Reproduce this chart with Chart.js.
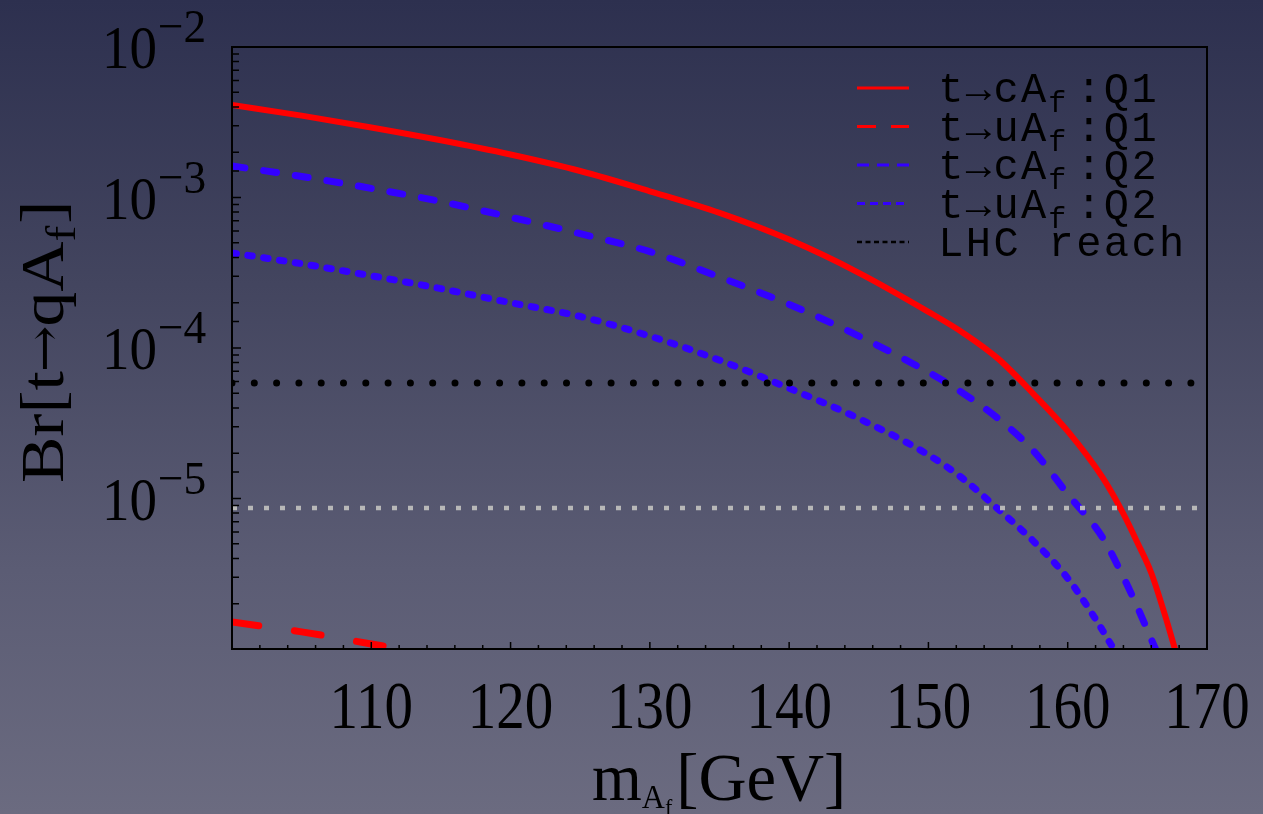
<!DOCTYPE html>
<html><head><meta charset="utf-8">
<script src="https://cdn.jsdelivr.net/npm/chart.js@4/dist/chart.umd.min.js"></script>
<style>
html,body{margin:0;padding:0;}
body{width:1263px;height:814px;overflow:hidden;background:linear-gradient(180deg,#2d304f 0%,#43455f 35%,#5b5c74 70%,#6b6b80 100%);}
#wrap{position:relative;width:1263px;height:814px;}
</style></head><body><div id="wrap"><canvas id="c"></canvas></div>
<script>
// ---- axis ranges & tick labels ----
const xMin = 100, xMax = 170;
const yMin = 1e-6, yMax = 1e-2;
const xTickLabels = [110, 120, 130, 140, 150, 160, 170];
const yTickPowers = [-2, -3, -4, -5];
const seriesLabels = ['t→cA_f:Q1', 't→uA_f:Q1', 't→cA_f:Q2', 't→uA_f:Q2', 'LHC reach'];

// ---- series: t -> c A_f : Q1 ----
const massCQ1 = [100,105,110,115,120,125,130,135,140,145,150,152.5,155,157.5,160,162.5,164,165,166,167,167.7];
const brCQ1   = [4.12e-3,3.5e-3,2.92e-3,2.40e-3,1.93e-3,1.50e-3,1.10e-3,7.9e-4,5.25e-4,3.16e-4,1.74e-4,1.26e-4,8.5e-5,5.0e-5,2.8e-5,1.38e-5,7.9e-6,5.1e-6,3.2e-6,1.66e-6,1.0e-6];
// ---- series: t -> u A_f : Q1 ----
const massUQ1 = [100,105,110,112.2];
const brUQ1   = [1.51e-6,1.30e-6,1.08e-6,1.0e-6];
// ---- series: t -> c A_f : Q2 ----
const massCQ2 = [100,105,110,115,120,125,130,135,140,145,150,152.5,155,157.5,160,162.5,164,165,166.3];
const brCQ2   = [1.62e-3,1.38e-3,1.15e-3,9.4e-4,7.4e-4,5.75e-4,4.37e-4,2.96e-4,1.95e-4,1.2e-4,6.9e-5,5.0e-5,3.4e-5,2.09e-5,1.07e-5,5.5e-6,3.0e-6,1.9e-6,1.0e-6];
// ---- series: t -> u A_f : Q2 ----
const massUQ2 = [100,105,110,115,120,125,130,135,140,145,150,152.5,155,157.5,160,162,163.3];
const brUQ2   = [4.28e-4,3.63e-4,3.02e-4,2.48e-4,2.0e-4,1.62e-4,1.2e-4,8.3e-5,5.4e-5,3.4e-5,1.95e-5,1.35e-5,8.5e-6,5.25e-6,2.95e-6,1.58e-6,1.0e-6];
// ---- horizontal reach lines ----
const lhcReach = 5.85e-5;
const lowerReach = 8.65e-6;

const RED = '#ff0000', BLUE = '#3300ff';
const pts = (xs, ys) => xs.map((x, i) => ({x: x, y: ys[i]}));

const legendSamples = [
  {color: RED, dash: []},
  {color: RED, dash: [19, 15]},
  {color: BLUE, dash: [12, 8]},
  {color: BLUE, dash: [8, 5]},
  {color: '#000000', dash: [5, 3.5], width: 2.5}
];

function drawScaled(ctx, text, x, y, sx, sy, align) {
  ctx.save();
  ctx.translate(x, y);
  ctx.scale(sx, sy);
  ctx.textAlign = align || 'left';
  ctx.textBaseline = 'alphabetic';
  ctx.fillText(text, 0, 0);
  ctx.restore();
}

const decor = {
  id: 'decor',
  afterDraw(chart) {
    const ctx = chart.ctx, a = chart.chartArea;
    const xs = chart.scales.x, ys = chart.scales.y;
    ctx.save();
    ctx.strokeStyle = '#000'; ctx.fillStyle = '#000';
    // frame
    ctx.lineWidth = 2;
    ctx.strokeRect(a.left, a.top, a.right - a.left, a.bottom - a.top);
    // tick marks (inward)
    ctx.lineWidth = 1.5;
    ctx.beginPath();
    xs.ticks.forEach(t => {
      const px = xs.getPixelForValue(t.value);
      const major = Math.abs(t.value % 10) < 1e-9;
      ctx.moveTo(px, a.bottom); ctx.lineTo(px, a.bottom - (major ? 7 : 4));
    });
    ys.ticks.forEach(t => {
      const py = ys.getPixelForValue(t.value);
      const lg = Math.log10(t.value);
      const major = Math.abs(lg - Math.round(lg)) < 1e-6;
      ctx.moveTo(a.left, py); ctx.lineTo(a.left + (major ? 9 : 7), py);
    });
    ctx.stroke();

    // x tick labels
    ctx.font = '57px "Liberation Serif", "Times New Roman", serif';
    xTickLabels.forEach(v => {
      drawScaled(ctx, String(v), xs.getPixelForValue(v), 728, 1, 1.17, 'center');
    });
    // y tick labels 10^p
    yTickPowers.forEach(p => {
      const py = ys.getPixelForValue(Math.pow(10, p));
      ctx.font = '55px "Liberation Serif", "Times New Roman", serif';
      drawScaled(ctx, '10', 157, py + 21, 1, 1.13, 'right');
      ctx.font = '42px "Liberation Serif", "Times New Roman", serif';
      drawScaled(ctx, '\u2212' + Math.abs(p), 158, py - 5, 1.08, 1.13, 'left');
    });

    // x title: m_{A_f}[GeV]
    let x = 592;
    ctx.font = '64px "Liberation Serif", serif';
    drawScaled(ctx, 'm', x, 800, 1, 1.05, 'left');
    x += ctx.measureText('m').width;
    ctx.font = '32px "Liberation Serif", serif';
    drawScaled(ctx, 'A', x, 808, 1, 1.05, 'left');
    x += ctx.measureText('A').width;
    ctx.font = '22px "Liberation Serif", serif';
    drawScaled(ctx, 'f', x, 815, 1, 1.05, 'left');
    x += ctx.measureText('f').width + 4;
    ctx.font = '64px "Liberation Serif", serif';
    drawScaled(ctx, '[GeV]', x, 800, 1.04, 1.05, 'left');

    // y title: Br[t→qA_f] rotated
    ctx.save();
    ctx.translate(63, 483);
    ctx.rotate(-Math.PI / 2);
    ctx.scale(1.12, 1);
    ctx.textAlign = 'left'; ctx.textBaseline = 'alphabetic';
    let t = 0;
    const big = '62px "Liberation Serif", serif';
    ctx.font = big;
    ctx.fillText('Br[t', t, 0);
    t += ctx.measureText('Br[t').width;
    ctx.font = '50px "DejaVu Serif", serif';
    ctx.fillText('→', t - 1, -2);
    t += ctx.measureText('→').width - 2;
    ctx.font = big;
    ctx.fillText('qA', t, 0);
    t += ctx.measureText('qA').width;
    ctx.font = '42px "Liberation Serif", serif';
    ctx.fillText('f', t, 12);
    t += ctx.measureText('f').width + 2;
    ctx.font = big;
    ctx.fillText(']', t, 0);
    ctx.restore();

    // legend
    const cell = 27.6, x0 = 937;
    seriesLabels.forEach((lab, i) => {
      const cy = 88 + i * 38.5;
      const s = legendSamples[i];
      ctx.save();
      ctx.strokeStyle = s.color; ctx.lineWidth = s.width || 3;
      ctx.setLineDash(s.dash); ctx.lineCap = 'butt';
      ctx.beginPath(); ctx.moveTo(857, cy); ctx.lineTo(909, cy); ctx.stroke();
      ctx.restore();
      let k = 0, sub = false;
      for (const ch of lab) {
        if (ch === '_') { sub = true; continue; }
        const cx = x0 + k * cell + cell / 2;
        if (sub) {
          ctx.font = '30px "Liberation Mono", "DejaVu Sans Mono", monospace';
          drawScaled(ctx, ch, cx - 4, cy + 24, 1, 1, 'center');
          sub = false;
        } else {
          ctx.font = '42px "Liberation Mono", "DejaVu Sans Mono", monospace';
          drawScaled(ctx, ch, cx, cy + 14, 1, 1, 'center');
        }
        k++;
      }
    });
    ctx.restore();
  }
};

new Chart(document.getElementById('c'), {
  type: 'line',
  data: {
    datasets: [
      {label: seriesLabels[4], data: pts([xMin, xMax], [lhcReach, lhcReach]), borderColor: '#000000', borderWidth: 7, borderDash: [0, 22.3], borderCapStyle: 'round', order: 0, clip: 0},
      {label: 'reach', data: pts([xMin, xMax], [lowerReach, lowerReach]), borderColor: '#b8b8b8', borderWidth: 4.5, borderDash: [5, 11], borderCapStyle: 'butt', order: 0, clip: 0},
      {label: seriesLabels[0], data: pts(massCQ1, brCQ1), borderColor: RED, borderWidth: 6, order: 1, clip: 0},
      {label: seriesLabels[1], data: pts(massUQ1, brUQ1), borderColor: RED, borderWidth: 7, borderDash: [27, 36], borderCapStyle: 'round', order: 1, clip: 0},
      {label: seriesLabels[2], data: pts(massCQ2, brCQ2), borderColor: BLUE, borderWidth: 7, borderDash: [13, 19], borderCapStyle: 'round', order: 1, clip: 0},
      {label: seriesLabels[3], data: pts(massUQ2, brUQ2), borderColor: BLUE, borderWidth: 7, borderDash: [4.5, 11.5], borderCapStyle: 'round', order: 1, clip: 0}
    ]
  },
  options: {
    responsive: true, maintainAspectRatio: false, animation: false,
    layout: {padding: {left: 232, top: 47, right: 56, bottom: 165}},
    elements: {point: {radius: 0}, line: {fill: false, cubicInterpolationMode: 'monotone'}},
    plugins: {legend: {display: false}, tooltip: {enabled: false}},
    scales: {
      x: {type: 'linear', min: xMin, max: xMax, ticks: {display: false, stepSize: 2}, grid: {display: false}, border: {display: false}, afterFit(s) { s.height = 0; }},
      y: {type: 'logarithmic', min: yMin, max: yMax, ticks: {display: false}, grid: {display: false}, border: {display: false}, afterFit(s) { s.width = 0; }}
    }
  },
  plugins: [decor]
});
</script>
</body></html>
